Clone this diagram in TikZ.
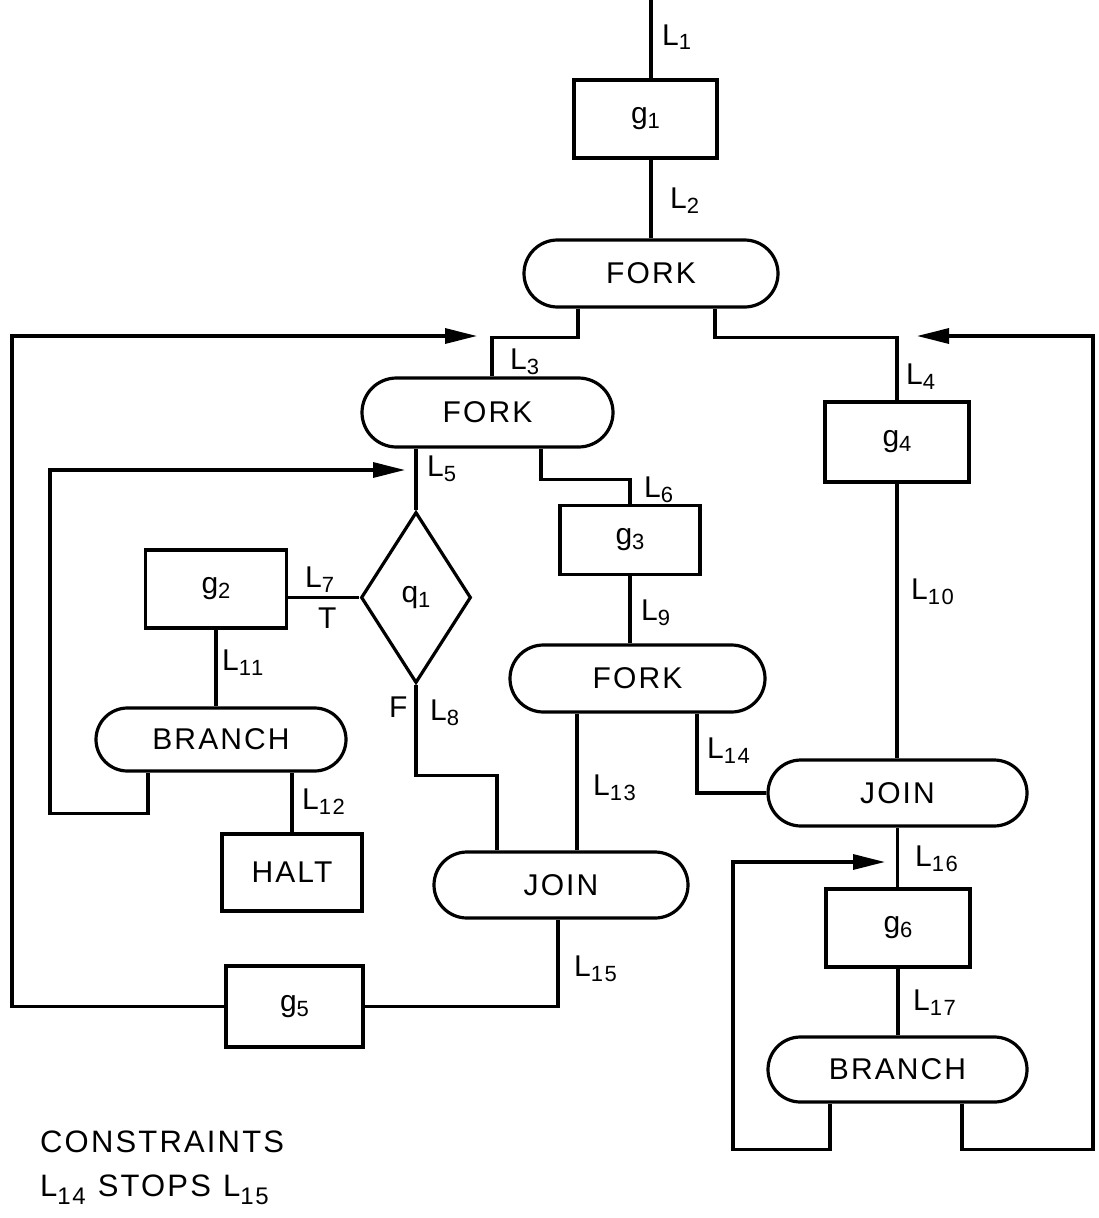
\documentclass[tikz,border=0pt]{standalone}
\usepackage{fontspec}
\setmainfont{Liberation Sans}[LetterSpace=7]
\usetikzlibrary{shapes.geometric,shapes.misc,arrows.meta}
\newcommand\sub[1]{\raisebox{-5pt}{\fontsize{22}{22}\selectfont #1}}
\newcommand\Lab[1]{L\sub{#1}}
\newcommand\gsub[2]{#1\raisebox{-5pt}{\fontsize{22}{22}\selectfont #2}}
\tikzset{
  every node/.style={font=\fontsize{30}{32}\selectfont},
  flow/.style={line width=3.2pt},
  boxnode/.style={draw, line width=3.2pt, rectangle, inner sep=0pt},
  pill/.style={draw, line width=3.2pt, rounded rectangle, inner sep=0pt},
  dec/.style={draw, line width=3.2pt, diamond, inner sep=0pt, minimum width=110pt, minimum height=171pt},
  lab/.style={anchor=base west, inner sep=0pt},
  arr/.style={flow, -{Triangle[length=32pt,width=15pt]}}
}
\begin{document}
\begin{tikzpicture}[x=1pt,y=-1pt]
\fill[white] (0,0) rectangle (1098,1218);
\useasboundingbox (0,0) rectangle (1098,1218);

% nodes
\node[boxnode, minimum width=143pt, minimum height=78pt] (g1) at (645.5,119) {\gsub{g}{1}};
\node[pill, minimum width=254pt, minimum height=67pt] (f1) at (651,273.5) {FORK};
\node[pill, minimum width=251pt, minimum height=69pt] (f2) at (487.5,412.5) {FORK};
\node[boxnode, minimum width=144pt, minimum height=80pt] (g4) at (897,442) {\gsub{g}{4}};
\node[dec] (q1) at (416,597.5) {\gsub{q}{1}};
\node[boxnode, minimum width=141pt, minimum height=78pt] (g2) at (216,589) {\gsub{g}{2}};
\node[boxnode, minimum width=140pt, minimum height=69pt] (g3) at (630,540) {\gsub{g}{3}};
\node[pill, minimum width=255pt, minimum height=67pt] (f3) at (637.5,678.5) {FORK};
\node[pill, minimum width=250pt, minimum height=63pt] (br1) at (221,739.5) {BRANCH};
\node[boxnode, minimum width=140pt, minimum height=77pt] (halt) at (292,872.5) {HALT};
\node[pill, minimum width=254pt, minimum height=66pt] (j1) at (561,885) {JOIN};
\node[pill, minimum width=259pt, minimum height=66pt] (j2) at (897.5,793) {JOIN};
\node[boxnode, minimum width=144pt, minimum height=78pt] (g6) at (898,928) {\gsub{g}{6}};
\node[pill, minimum width=259pt, minimum height=65pt] (b2) at (897.5,1069.5) {BRANCH};
\node[boxnode, minimum width=137pt, minimum height=81pt] (g5) at (294.5,1006.5) {\gsub{g}{5}};

% free ends and bends
\coordinate (top) at (651,0);
\coordinate (lc) at (12,336);
\coordinate (la) at (477,336);
\coordinate (rc) at (1093,336);
\coordinate (ra) at (917,336);
\coordinate (ilc) at (50,470);
\coordinate (ila) at (405,470);
\coordinate (irc) at (733,862);
\coordinate (ira) at (885,862);

% connectors
\draw[flow] (top) -- (top |- g1.north);
\draw[flow] (top |- g1.south) -- (f1.north);
\draw[flow] ([xshift=-73pt]f1.south) -- ++(0,29) -| ([xshift=4.5pt]f2.north);
\draw[flow] ([xshift=64pt]f1.south) -- ++(0,29) -| (g4.north);
\draw[arr] (g5.west) -| (lc) -- (la);
\draw[arr] ([xshift=64.5pt]b2.south) -- ++(0,46) -| (rc) -- (ra);
\draw[flow] ([xshift=-71.5pt]f2.south) -- (q1.north);
\draw[flow] ([xshift=53.5pt]f2.south) -- ++(0,31) -| (g3.north);
\draw[arr] ([xshift=-73pt]br1.south) -- ++(0,41) -| (ilc) -- (ila);
\draw[flow] (g2.east |- q1.west) -- (q1.west);
\draw[flow] (g2.south) -- (g2.south |- br1.north);
\draw[flow] (halt.north |- br1.south) -- (halt.north);
\draw[flow] (q1.south) -- ++(0,91) -| ([xshift=-64pt]j1.north);
\draw[flow] (g3.south) -- (g3.south |- f3.north);
\draw[flow] ([xshift=-60.5pt]f3.south) -- ([xshift=16pt]j1.north);
\draw[flow] ([xshift=59.5pt]f3.south) |- (j2.west);
\draw[flow] (g4.south) -- (g4.south |- j2.north);
\draw[flow] ([xshift=-3pt]j1.south) |- (g5.east);
\draw[flow] (j2.south) -- (j2.south |- g6.north);
\draw[arr] ([xshift=-67.5pt]b2.south) -- ++(0,46) -| (irc) -- (ira);
\draw[flow] (g6.south) -- (g6.south |- b2.north);

% labels
\node[lab] (tL1) at (662,45) {\Lab{1}};
\node[lab] (tL2) at (670,208) {\Lab{2}};
\node[lab] (tL3) at (510,369) {\Lab{3}};
\node[lab] (tL4) at (906,384) {\Lab{4}};
\node[lab] (tL5) at (427,476) {\Lab{5}};
\node[lab] (tL6) at (644,497) {\Lab{6}};
\node[lab] (tL7) at (305,587) {\Lab{7}};
\node[lab] (tT) at (318,628) {T};
\node[lab] (tL11) at (222,670) {\Lab{11}};
\node[lab] (tL12) at (302,809) {\Lab{12}};
\node[lab] (tF) at (389,717) {F};
\node[lab] (tL8) at (430,720) {\Lab{8}};
\node[lab] (tL9) at (641,620) {\Lab{9}};
\node[lab] (tL10) at (911,599) {\Lab{10}};
\node[lab] (tL13) at (593,795) {\Lab{13}};
\node[lab] (tL14) at (707,758) {\Lab{14}};
\node[lab] (tL15) at (574,976) {\Lab{15}};
\node[lab] (tL16) at (915,866) {\Lab{16}};
\node[lab] (tL17) at (913,1010) {\Lab{17}};

\node[lab, font=\fontsize{31}{34}\selectfont] (cons) at (40,1152) {CONSTRAINTS};
\node[lab, font=\fontsize{31}{34}\selectfont] (stops) at (40,1196) {L\raisebox{-8pt}{\fontsize{24}{24}\selectfont 14}\hspace{12pt}STOPS\hspace{12pt}L\raisebox{-8pt}{\fontsize{24}{24}\selectfont 15}};
\end{tikzpicture}
\end{document}
